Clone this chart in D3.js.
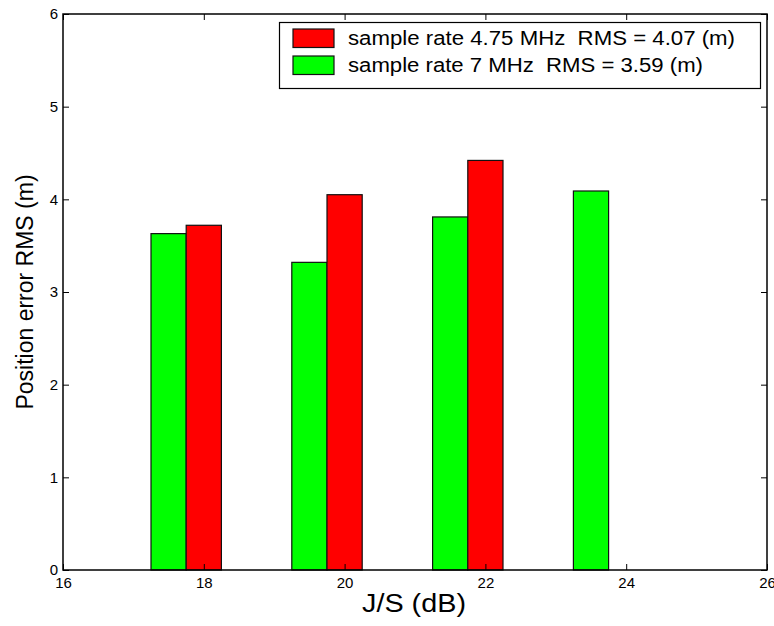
<!DOCTYPE html>
<html>
<head>
<meta charset="utf-8">
<script src="https://cdn.jsdelivr.net/npm/d3@7"></script>
<style>
  html, body { margin: 0; padding: 0; background: #fff; }
  svg { display: block; font-family: Arial, "Liberation Sans", sans-serif; }
  text { white-space: pre; }
</style>
</head>
<body>
<svg id="chart" width="774" height="626"></svg>
<script>
// J/S levels (dB) and position error RMS (m) for the two sample rates
const jsLevels = [18, 20, 22, 24];
const rms475 = [3.72, 4.05, 4.42, 0];
const rms7 = [3.63, 3.32, 3.81, 4.09];
const xTicks = [16, 18, 20, 22, 24, 26];
const yTicks = [0, 1, 2, 3, 4, 5, 6];
const legendLabels = [
  "sample rate 4.75 MHz  RMS = 4.07 (m)",
  "sample rate 7 MHz  RMS = 3.59 (m)"
];
const colors = ["#ff0000", "#00ff00"];

const svg = d3.select("#chart");
const plot = { left: 63, right: 767, top: 14, bottom: 570 };

const x = d3.scaleLinear().domain([16, 26]).range([plot.left, plot.right]);
const y = d3.scaleLinear().domain([0, 6]).range([plot.bottom, plot.top]);
const barW = 0.5; // bar width in dB units

// bars: 7 MHz series sits just left of each J/S level, 4.75 MHz series centred on it
const series = [
  { values: rms7, offset: -0.5, color: colors[1] },
  { values: rms475, offset: 0, color: colors[0] }
];
series.forEach(s => {
  svg.append("g").selectAll("rect")
    .data(jsLevels.map((j, i) => ({ j, v: s.values[i] })).filter(d => d.v > 0))
    .join("rect")
    .attr("x", d => x(d.j + s.offset - barW / 2))
    .attr("width", d => x(d.j + s.offset + barW / 2) - x(d.j + s.offset - barW / 2))
    .attr("y", d => y(d.v))
    .attr("height", d => y(0) - y(d.v))
    .attr("fill", s.color)
    .attr("stroke", "#111")
    .attr("stroke-width", 1.2);
});

// axes with inward ticks on all four sides
const tickLen = 6;
const axB = d3.axisBottom(x).tickValues(xTicks).tickSizeInner(-tickLen).tickSizeOuter(0).tickPadding(7).tickFormat(d3.format("d"));
const axT = d3.axisTop(x).tickValues(xTicks).tickSizeInner(-tickLen).tickSizeOuter(0).tickFormat("");
const axL = d3.axisLeft(y).tickValues(yTicks).tickSizeInner(-tickLen).tickSizeOuter(0).tickPadding(5).tickFormat(d3.format("d"));
const axR = d3.axisRight(y).tickValues(yTicks).tickSizeInner(-tickLen).tickSizeOuter(0).tickFormat("");

function styleAxis(g) {
  g.select(".domain").remove();
  g.selectAll(".tick line").attr("stroke", "#000").attr("stroke-width", 1);
  g.selectAll(".tick text").attr("fill", "#000").style("font-size", "15px").style("font-family", "Arial, 'Liberation Sans', sans-serif");
}
svg.append("g").attr("transform", `translate(0,${plot.bottom})`).call(axB).call(styleAxis);
svg.append("g").attr("transform", `translate(0,${plot.top})`).call(axT).call(styleAxis);
svg.append("g").attr("transform", `translate(${plot.left},0)`).call(axL).call(styleAxis);
svg.append("g").attr("transform", `translate(${plot.right},0)`).call(axR).call(styleAxis);

// plot frame
svg.append("rect")
  .attr("x", plot.left).attr("y", plot.top)
  .attr("width", plot.right - plot.left).attr("height", plot.bottom - plot.top)
  .attr("fill", "none").attr("stroke", "#000").attr("stroke-width", 1.5);

// axis titles
svg.append("text")
  .attr("x", 414).attr("y", 612)
  .attr("text-anchor", "middle")
  .attr("textLength", 104)
  .attr("lengthAdjust", "spacingAndGlyphs")
  .style("font-size", "25px")
  .text("J/S (dB)");
svg.append("text")
  .attr("transform", `translate(33,${(plot.top + plot.bottom) / 2}) rotate(-90)`)
  .attr("text-anchor", "middle")
  .style("font-size", "23px")
  .text("Position error RMS (m)");

// legend
const leg = svg.append("g");
leg.append("rect")
  .attr("x", 279.5).attr("y", 22.5).attr("width", 481).attr("height", 66)
  .attr("fill", "#fff").attr("stroke", "#000").attr("stroke-width", 1.2);
const legendWidths = [387, 355];
legendLabels.forEach((label, i) => {
  const rowY = 29 + i * 27;
  leg.append("rect")
    .attr("x", 293).attr("y", rowY).attr("width", 41).attr("height", 18.5)
    .attr("fill", colors[i]).attr("stroke", "#111").attr("stroke-width", 1.2);
  leg.append("text")
    .attr("x", 348).attr("y", rowY + 16)
    .attr("textLength", legendWidths[i])
    .attr("lengthAdjust", "spacingAndGlyphs")
    .style("font-size", "20px")
    .text(label);
});
</script>
</body>
</html>
